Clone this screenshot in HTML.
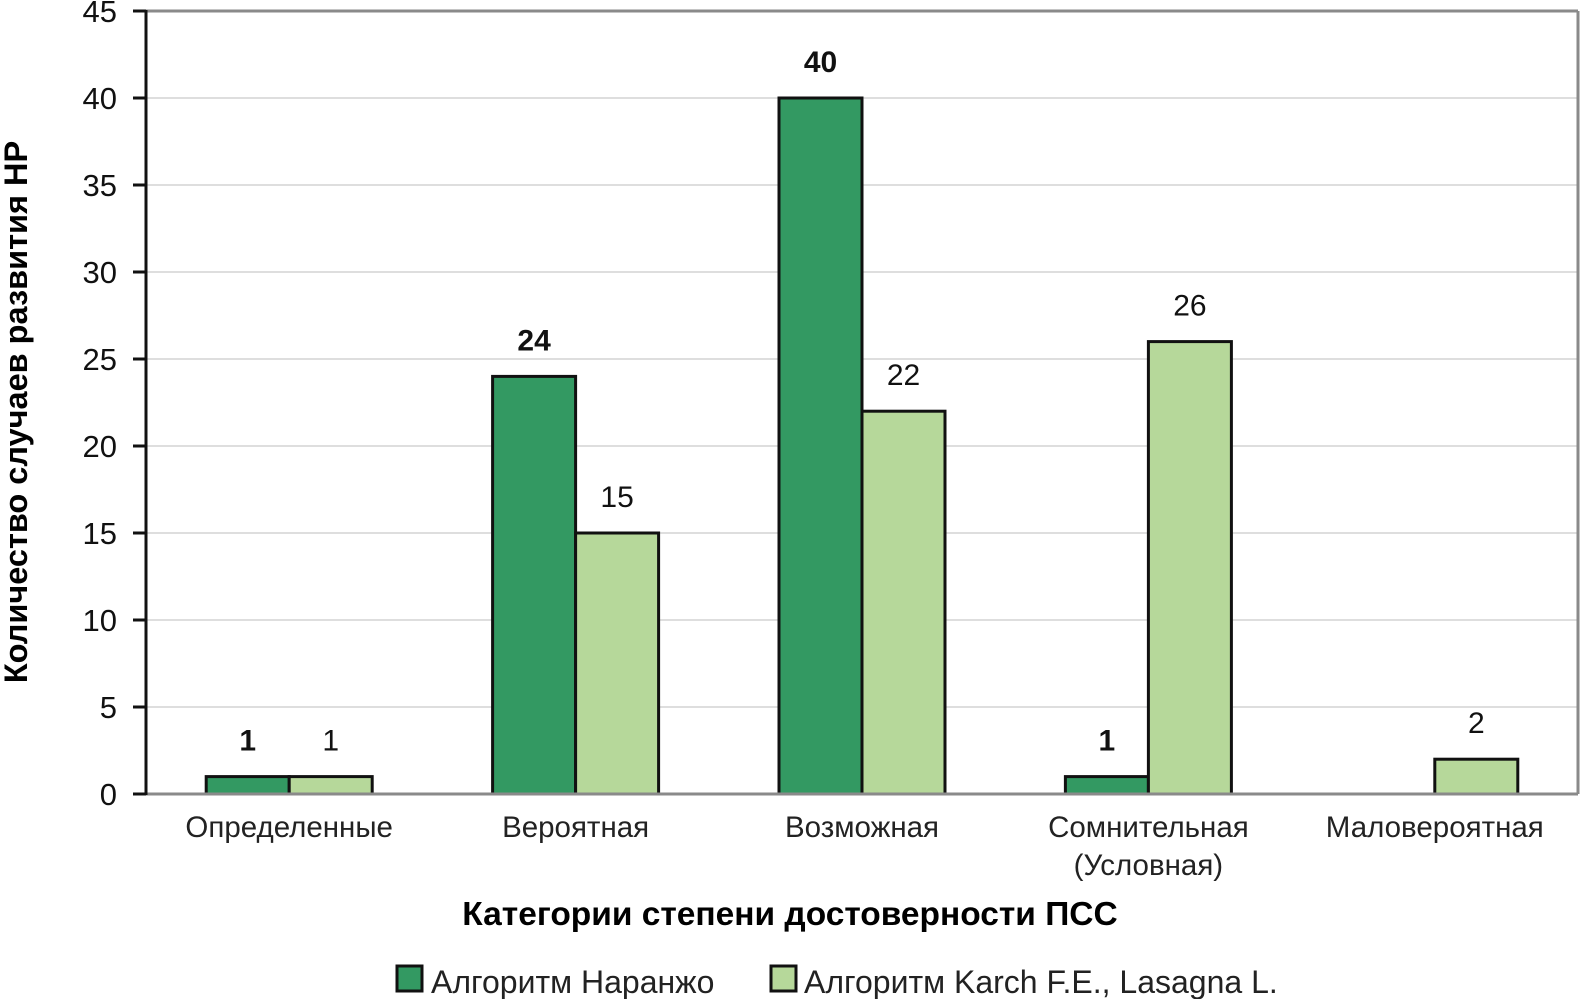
<!DOCTYPE html>
<html><head><meta charset="utf-8"><style>
body{margin:0;background:#fff;}
svg{display:block;font-family:"Liberation Sans",sans-serif;}
</style></head><body>
<svg id="chart" width="1586" height="999" viewBox="0 0 1586 999" xmlns="http://www.w3.org/2000/svg">
<g id="grid"></g><g id="bars"></g><g id="axes"></g><g id="labels"></g>
<text x="790" y="925" text-anchor="middle" font-size="33.5" font-weight="bold" fill="#000">Категории степени достоверности ПСС</text>
<text transform="translate(27,412) rotate(-90)" text-anchor="middle" font-size="32.5" font-weight="bold" fill="#000">Количество случаев развития НР</text>
<g>
<rect x="397" y="966" width="25" height="25" fill="#339962" stroke="#111" stroke-width="3"/>
<text x="431" y="993" font-size="32" fill="#222">Алгоритм Наранжо</text>
<rect x="771" y="966" width="25" height="25" fill="#b6d89a" stroke="#111" stroke-width="3"/>
<text x="804" y="993" font-size="32" fill="#222">Алгоритм Karch F.E., Lasagna L.</text>
</g>
</svg>
<script>
const categories=[["Определенные"],["Вероятная"],["Возможная"],["Сомнительная","(Условная)"],["Маловероятная"]];
const naranjo=[1,24,40,1,null];
const karch=[1,15,22,26,2];
const yTicks=[0,5,10,15,20,25,30,35,40,45];
const NS="http://www.w3.org/2000/svg";
const L=146,R=1578,T=11,B=794,yMax=45;
const y=v=>B-(v/yMax)*(B-T);
const cw=(R-L)/categories.length;
const cx=i=>L+cw*(i+0.5);
const bw=83;
function mk(tag,attrs,parent,txt){const e=document.createElementNS(NS,tag);for(const k in attrs)e.setAttribute(k,attrs[k]);if(txt!==undefined)e.textContent=txt;document.getElementById(parent).appendChild(e);return e;}
yTicks.forEach(t=>{
  if(t>0&&t<45){const g=mk('line',{x1:L,x2:R,y1:y(t),y2:y(t),stroke:'#d4d4d4','stroke-width':1.5},'grid');
  
  }
  const tk=mk('line',{x1:133,x2:L,y1:y(t),y2:y(t),stroke:'#111','stroke-width':3},'axes');
  
  
  const tl=mk('text',{x:117,y:y(t)+11,'text-anchor':'end','font-size':31,fill:'#111'},'labels',String(t));
  
  
});
const topBorder=mk('line',{x1:L,x2:R,y1:y(45),y2:y(45),stroke:'#8a8a8a','stroke-width':3},'axes');


const rb=mk('line',{x1:R,x2:R,y1:T,y2:B,stroke:'#8a8a8a','stroke-width':3},'axes');


const xa=mk('line',{x1:L,x2:R,y1:B,y2:B,stroke:'#8a8a8a','stroke-width':3},'axes');


const ya=mk('line',{x1:L,x2:L,y1:T-1,y2:B+1,stroke:'#111','stroke-width':3},'axes');


categories.forEach((c,i)=>{
  c.forEach((line,j)=>{const t=mk('text',{x:cx(i),y:837+j*38,'text-anchor':'middle','font-size':29.5,fill:'#222'},'labels',line);
  
  });
  [[naranjo,'#339962',-bw,'bold','naranjo'],[karch,'#b6d89a',0,'normal','karch']].forEach(([arr,col,off,fw,nm])=>{
    const v=arr[i]; if(v===null||v===undefined)return;
    const r=mk('rect',{x:cx(i)+off,y:y(v),width:bw,height:B-y(v),fill:col,stroke:'#111','stroke-width':3},'bars');
    
    
    const lt=mk('text',{x:cx(i)+off+bw/2,y:y(v)-26,'text-anchor':'middle','font-size':30,'font-weight':fw,fill:'#111'},'labels',String(v));
    
    
  });
});
</script>
</body></html>
